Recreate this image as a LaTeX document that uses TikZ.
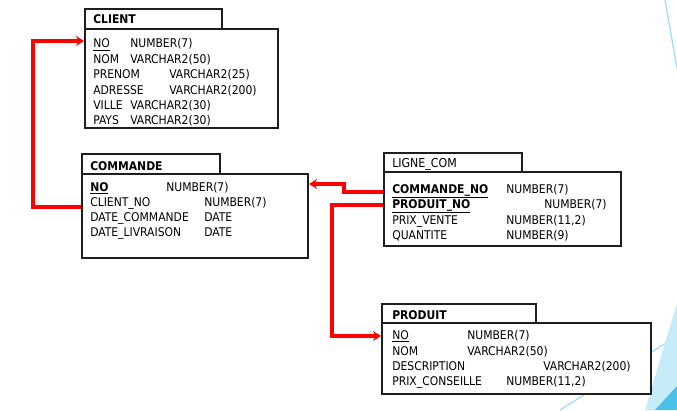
\documentclass[tikz,border=0pt]{standalone}
\usepackage{fontspec}
\setmainfont{DejaVu Sans Condensed}
\usepackage{xcolor}
\usetikzlibrary{arrows.meta, calc, positioning, fit}

\definecolor{boxline}{HTML}{1E1E1E}
\definecolor{themeline}{HTML}{A3DDF3}
\definecolor{themelight}{HTML}{C6ECF9}
\definecolor{themedark}{HTML}{4CC1E8}

\begin{document}
\begin{tikzpicture}[x=0.75pt, y=-0.75pt,
  tablebox/.style={draw=boxline, line width=1.5pt, fill=white, inner sep=0pt},
  title/.style={anchor=base west, inner sep=0pt, font=\fontsize{9}{10}\selectfont\bfseries},
  fld/.style={anchor=base west, inner sep=0pt, font=\fontsize{9}{10}\selectfont},
  fk/.style={draw=red, line width=2.4pt, -{Stealth[length=6pt, width=7.5pt]}}]
\useasboundingbox (0,0) rectangle (677,410);

% Slide theme decoration
\draw[themeline, line width=1pt] (665,0) -- (677,68);
\draw[themeline, line width=1pt] (560,410) -- (677,336);
\fill[themelight] (645,410) -- (677,303) -- (677,410) -- cycle;
\fill[themedark] (655,410) -- (677,386) -- (677,410) -- cycle;

% CLIENT
\coordinate (client-tab-nw) at (85,9);
\coordinate (client-tab-se) at (222,29);
\coordinate (client-nw) at (85,29);
\coordinate (client-se) at (278,128);
\node[tablebox, fit=(client-tab-nw)(client-tab-se)] (client-tab) {};
\node[tablebox, fit=(client-nw)(client-se)] (client) {};
\node[title] (client-title) at (93,24) {CLIENT};
\node[fld] (cl-no) at (93,48) {\underline{NO}};
\node[fld] (cl-nom) at (93,64) {NOM};
\node[fld] (cl-prenom) at (93,79) {PRENOM};
\node[fld] (cl-adresse) at (93,94) {ADRESSE};
\node[fld] (cl-ville) at (93,109) {VILLE};
\node[fld] (cl-pays) at (93,124) {PAYS};
\node[fld] (cl-no-t) at (130,48) {NUMBER(7)};
\node[fld] (cl-nom-t) at (130,64) {VARCHAR2(50)};
\node[fld] (cl-prenom-t) at (169,79) {VARCHAR2(25)};
\node[fld] (cl-adresse-t) at (169,94) {VARCHAR2(200)};
\node[fld] (cl-ville-t) at (130,109) {VARCHAR2(30)};
\node[fld] (cl-pays-t) at (130,124) {VARCHAR2(30)};

% COMMANDE
\coordinate (cmd-tab-nw) at (82,154);
\coordinate (cmd-tab-se) at (220,174);
\coordinate (cmd-nw) at (82,174);
\coordinate (cmd-se) at (308,258);
\node[tablebox, fit=(cmd-tab-nw)(cmd-tab-se)] (commande-tab) {};
\node[tablebox, fit=(cmd-nw)(cmd-se)] (commande) {};
\node[title] (commande-title) at (90,170) {COMMANDE};
\node[fld] (cmd-no) at (90,191) {\bfseries\underline{NO}};
\node[fld] (cmd-client) at (90,206) {CLIENT\_NO};
\node[fld] (cmd-date) at (90,221) {DATE\_COMMANDE};
\node[fld] (cmd-livr) at (90,236) {DATE\_LIVRAISON};
\node[fld] (cmd-no-t) at (166,191) {NUMBER(7)};
\node[fld] (cmd-client-t) at (204,206) {NUMBER(7)};
\node[fld] (cmd-date-t) at (204,221) {DATE};
\node[fld] (cmd-livr-t) at (204,236) {DATE};

% LIGNE_COM
\coordinate (lc-tab-nw) at (384,153);
\coordinate (lc-tab-se) at (522,172);
\coordinate (lc-nw) at (384,172);
\coordinate (lc-se) at (621,246);
\node[tablebox, fit=(lc-tab-nw)(lc-tab-se)] (ligne-tab) {};
\node[tablebox, fit=(lc-nw)(lc-se)] (ligne) {};
\node[title, font=\fontsize{9.2}{10}\selectfont] (ligne-title) at (392,167) {LIGNE\_COM};
\node[fld] (lc-cmd) at (392,193) {\bfseries\underline{COMMANDE\_NO}};
\node[fld] (lc-prod) at (392,208) {\bfseries\underline{PRODUIT\_NO}};
\node[fld] (lc-prix) at (392,224) {PRIX\_VENTE};
\node[fld] (lc-qte) at (392,239) {QUANTITE};
\node[fld] (lc-cmd-t) at (506,193) {NUMBER(7)};
\node[fld] (lc-prod-t) at (544,208) {NUMBER(7)};
\node[fld] (lc-prix-t) at (506,224) {NUMBER(11,2)};
\node[fld] (lc-qte-t) at (506,239) {NUMBER(9)};

% PRODUIT
\coordinate (prod-tab-nw) at (382,304);
\coordinate (prod-tab-se) at (536,323);
\coordinate (prod-nw) at (382,323);
\coordinate (prod-se) at (651,394);
\node[tablebox, fit=(prod-tab-nw)(prod-tab-se)] (produit-tab) {};
\node[tablebox, fit=(prod-nw)(prod-se)] (produit) {};
\node[title] (produit-title) at (392,319) {PRODUIT};
\node[fld] (pr-no) at (392,339) {\underline{NO}};
\node[fld] (pr-nom) at (392,355) {NOM};
\node[fld] (pr-desc) at (392,370) {DESCRIPTION};
\node[fld] (pr-prix) at (392,385) {PRIX\_CONSEILLE};
\node[fld] (pr-no-t) at (467,339) {NUMBER(7)};
\node[fld] (pr-nom-t) at (467,355) {VARCHAR2(50)};
\node[fld] (pr-desc-t) at (543,370) {VARCHAR2(200)};
\node[fld] (pr-prix-t) at (506,385) {NUMBER(11,2)};

% Foreign keys
\draw[fk] ([yshift=-3pt]commande.west |- cmd-client) -- ++(-48,0) |- ([yshift=3pt]client.west |- cl-no);
\draw[fk] ([yshift=-0.5pt]ligne.west |- lc-cmd) -- ++(-39,0) |- ([yshift=3pt]commande.east |- cmd-no);
\draw[fk] ([yshift=1pt]ligne.west |- lc-prod) -- ++(-51,0) |- ([yshift=0pt]produit.west |- pr-no);

\end{tikzpicture}
\end{document}
